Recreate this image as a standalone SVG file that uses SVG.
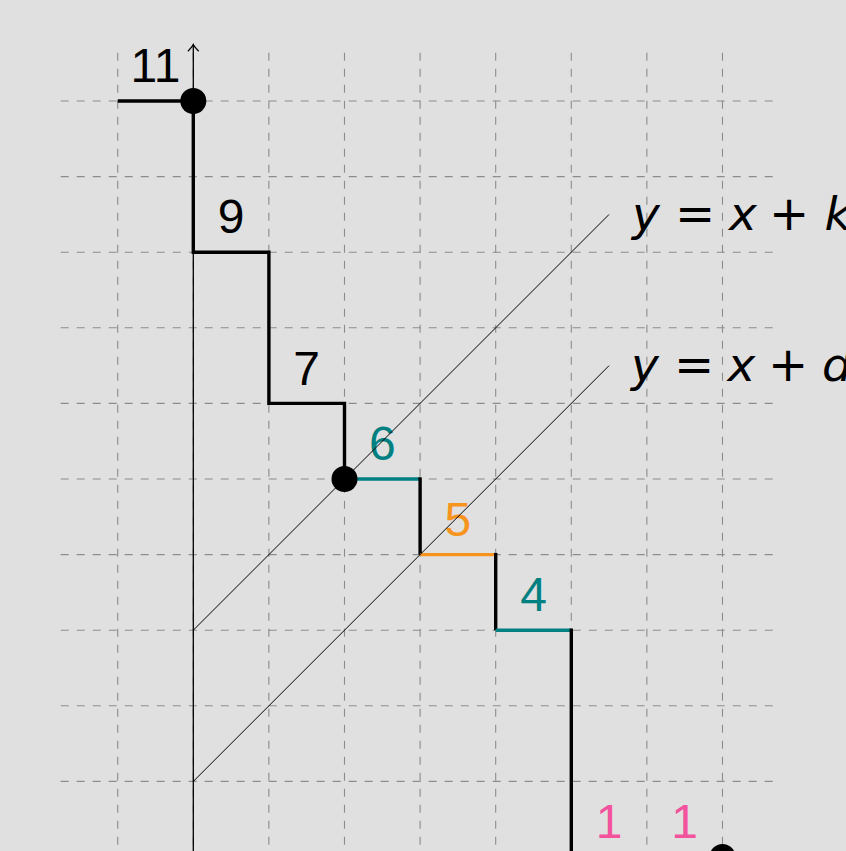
<svg xmlns="http://www.w3.org/2000/svg" width="846" height="851" viewBox="0 0 846 851">
<defs>
<style>
.grid line{stroke:#8c8c8c;stroke-width:1.1;stroke-dasharray:8 8;fill:none}
.stair{stroke:#000;stroke-width:3.4;fill:none;stroke-linecap:butt;stroke-linejoin:miter}
.teal{stroke:#008080;stroke-width:3.4;fill:none}
.orange{stroke:#F7941D;stroke-width:3.4;fill:none}
.diag{stroke:#000;stroke-width:1;fill:none}
.num{font-family:"Liberation Sans",Arial,sans-serif;font-size:48px;text-anchor:middle}
.mi{font-family:"DejaVu Sans",sans-serif;font-style:italic;font-size:47px;text-anchor:middle}
.mo{font-family:"DejaVu Sans",sans-serif;font-size:48px;text-anchor:middle}
</style>
<marker id="arr" markerWidth="16" markerHeight="16" refX="14" refY="8" orient="auto" markerUnits="userSpaceOnUse">
<path d="M7.3,2.6 Q11.5,6.8 14,8 Q11.5,9.2 7.3,13.4" fill="none" stroke="#000" stroke-width="1.3"/>
</marker>
</defs>
<rect width="846" height="851" fill="#e0e0e0"/>
<g id="grid" class="grid">
<line x1="117.7" y1="52.7" x2="117.7" y2="851"/>
<line x1="193.3" y1="52.7" x2="193.3" y2="851"/>
<line x1="268.9" y1="52.7" x2="268.9" y2="851"/>
<line x1="344.5" y1="52.7" x2="344.5" y2="851"/>
<line x1="420.1" y1="52.7" x2="420.1" y2="851"/>
<line x1="495.7" y1="52.7" x2="495.7" y2="851"/>
<line x1="571.3" y1="52.7" x2="571.3" y2="851"/>
<line x1="646.9" y1="52.7" x2="646.9" y2="851"/>
<line x1="722.5" y1="52.7" x2="722.5" y2="851"/>
<line x1="60.7" y1="101" x2="779" y2="101"/>
<line x1="60.7" y1="176.6" x2="779" y2="176.6"/>
<line x1="60.7" y1="252.2" x2="779" y2="252.2"/>
<line x1="60.7" y1="327.8" x2="779" y2="327.8"/>
<line x1="60.7" y1="403.4" x2="779" y2="403.4"/>
<line x1="60.7" y1="479" x2="779" y2="479"/>
<line x1="60.7" y1="554.6" x2="779" y2="554.6"/>
<line x1="60.7" y1="630.2" x2="779" y2="630.2"/>
<line x1="60.7" y1="705.8" x2="779" y2="705.8"/>
<line x1="60.7" y1="781.4" x2="779" y2="781.4"/>
</g>
<g id="axis">
<line x1="193.3" y1="851" x2="193.3" y2="44.5" stroke="#000" stroke-width="1.3" marker-end="url(#arr)"/>
</g>
<g id="labels">
<text class="num" x="155.5" y="82" fill="#000">11</text>
<text class="num" x="231.1" y="232.7" fill="#000">9</text>
<text class="num" x="306.7" y="384.5" fill="#000">7</text>
<text class="num" x="382.3" y="460" fill="#008080">6</text>
<text class="num" x="457.9" y="535.5" fill="#F7941D">5</text>
<text class="num" x="533.5" y="611" fill="#008080">4</text>
<text class="num" x="609.1" y="837.5" fill="#F2539C">1</text>
<text class="num" x="684.7" y="837.5" fill="#F2539C">1</text>
</g>
<g id="connectors">
<path class="stair" d="M117.7,101 H193.3 V252.2 H268.9 V403.4 H344.5 V479"/>
<path class="teal" d="M344.5,479 H420.1"/>
<path class="stair" d="M420.1,477.3 V554.6"/>
<path class="orange" d="M420.1,554.6 H495.7"/>
<path class="stair" d="M495.7,552.9 V630.2"/>
<path class="teal" d="M495.7,630.2 H571.3"/>
<path class="stair" d="M571.3,628.5 V851"/>
<line class="diag" x1="193.3" y1="630.2" x2="609" y2="214.5"/>
<line class="diag" x1="193.3" y1="781.4" x2="609" y2="365.7"/>
</g>
<g id="dots">
<circle cx="193.3" cy="101" r="13"/>
<circle cx="344.5" cy="479" r="13"/>
<circle cx="722.5" cy="857" r="13"/>
</g>
<g id="eq-k">
<text class="mi" x="646" y="229.5">y</text>
<text class="mo" x="695" y="229.5">=</text>
<text class="mi" x="743" y="229.5">x</text>
<text class="mo" x="789" y="229.5">+</text>
<text class="mi" x="838" y="229.5">k</text>
</g>
<g id="eq-d">
<text class="mi" x="645" y="380.5">y</text>
<text class="mo" x="694" y="380.5">=</text>
<text class="mi" x="741.5" y="380.5">x</text>
<text class="mo" x="788" y="380.5">+</text>
<text class="mi" x="837" y="380.5">d</text>
</g>
</svg>
